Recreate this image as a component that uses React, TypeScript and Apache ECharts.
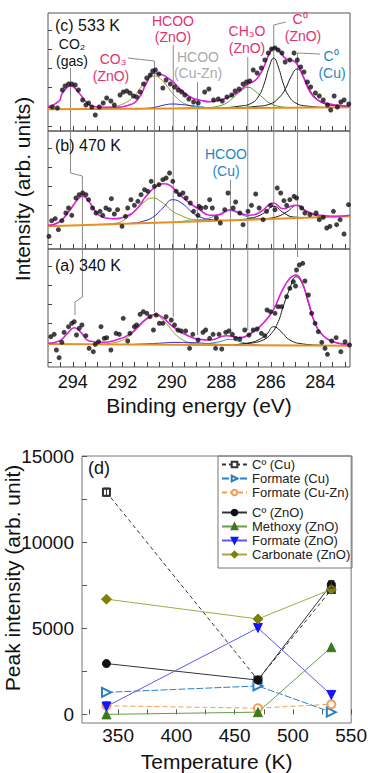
import React, { useEffect, useRef } from 'react';
import * as echarts from 'echarts';

const FONT = '"Liberation Sans", Arial, Helvetica, sans-serif';

// ---------- XPS spectra (energy eV, intensity arb.) ----------
const energyTicks = [283, 283.5, 284, 284.5, 285, 285.5, 286, 286.5, 287, 287.5, 288, 288.5, 289, 289.5, 290, 290.5, 291, 291.5, 292, 292.5, 293, 293.5, 294, 294.5];
const energyLabels = [284, 286, 288, 290, 292, 294];
const intensityTicks = [5, 24, 44, 63, 82, 101];

// panel (c) 533 K
const ptsC: number[][] = [
  [295.02, 25], [294.82, 24], [294.62, 23], [294.42, 41], [294.31, 45], [294.17, 47], [294.04, 47], [293.9, 46], [293.77, 41], [293.6, 31], [293.47, 26], [293.36, 28], [293.23, 24], [293.09, 16], [292.93, 24], [292.77, 28], [292.63, 33], [292.46, 30], [292.32, 26], [292.09, 36], [291.96, 39], [291.82, 40], [291.69, 38], [291.55, 35], [291.42, 34], [291.28, 39], [291.14, 47], [291.01, 53], [290.87, 56], [290.77, 60], [290.66, 61], [290.52, 57], [290.36, 43], [290.23, 51], [290.06, 47], [289.89, 44], [289.74, 41], [289.6, 39], [289.47, 36], [289.31, 32], [289.12, 29], [288.93, 28],
  [288.67, 39], [288.5, 42], [288.31, 31], [288.12, 32], [287.96, 30], [287.77, 34], [287.58, 36], [287.44, 40], [287.28, 42], [287.12, 47], [286.98, 49], [286.85, 50], [286.71, 61], [286.55, 58], [286.38, 63], [286.24, 71], [286.1, 78], [285.97, 82], [285.83, 83], [285.7, 81], [285.55, 78], [285.42, 69], [285.23, 71], [285.06, 78], [284.93, 71], [284.79, 64], [284.66, 59], [284.52, 49], [284.39, 44], [284.2, 38], [284.04, 35], [283.88, 31], [283.71, 26], [283.58, 21], [283.44, 35], [283.31, 24], [283.17, 29], [283.04, 31], [282.85, 27],
];
const envC: number[][] = [
  [295.0, 24.3], [294.55, 30], [294.42, 37.7], [294.08, 45], [293.74, 37.7], [293.4, 27.7], [293.06, 24.3], [292.39, 23.7], [291.71, 26], [291.31, 33.7], [291.04, 47], [290.7, 57.7], [290.36, 56], [289.96, 49.3], [289.55, 39.3], [289.15, 32.7], [288.88, 31],
  [288.47, 29.3], [287.93, 31.7], [287.39, 37.7], [286.98, 46], [286.58, 51.7], [286.31, 62.7], [286.04, 78.3], [285.86, 83.7], [285.63, 79.3], [285.36, 71.7], [285.09, 70.3], [284.89, 65], [284.69, 54.3], [284.42, 39.3], [284.15, 31.7], [283.74, 27.7], [283.34, 26], [282.8, 25],
];
const baseC: number[][] = [[295, 21.7], [282.8, 23.7]];
const c0ZnO_C: number[][] = [[288.1, 22.8], [287.28, 24.8], [286.78, 27.8], [286.48, 35.3], [286.26, 47.8], [286.08, 62.8], [285.88, 72.8], [285.68, 62.8], [285.5, 47.8], [285.28, 35.3], [284.98, 27.8], [284.48, 24.8], [283.7, 23.4]];
const c0Cu_C: number[][] = [[287.43, 23.0], [286.63, 24.5], [286.03, 27.0], [285.68, 33.0], [285.4, 42.6], [285.18, 54.3], [284.93, 62.0], [284.68, 54.3], [284.46, 42.6], [284.18, 33.0], [283.83, 27.3], [283.23, 25.0], [282.8, 24.3]];
const ch3o_C: number[][] = [[288.72, 22.8], [288.22, 24.3], [287.82, 27.5], [287.52, 33.3], [287.22, 39.5], [286.92, 43.7], [286.62, 39.5], [286.32, 33.3], [286.02, 27.5], [285.62, 24.4], [285.12, 23.1]];
const co3_C: number[][] = [[293.2, 22.1], [292.52, 23.7], [291.98, 27], [291.58, 33.7], [291.17, 46], [290.95, 52], [290.7, 55], [290.45, 52], [290.23, 46], [289.82, 33.7], [289.42, 26.7], [288.94, 23.7], [288.3, 22.6]];
const hcooZnO_C: number[][] = [[291.5, 22.2], [291.04, 22.6], [290.63, 24], [290.3, 26], [289.96, 27], [289.6, 26.4], [289.2, 25.3], [288.74, 23.8], [288.33, 22.9], [287.8, 22.6]];
const hcooCuZn_C: number[][] = [[289.8, 22.5], [289.3, 23.4], [288.97, 24.2], [288.6, 23.4], [288.1, 22.7]];

// panel (b) 470 K
const ptsB: number[][] = [
  [295.02, 29.3], [294.96, 12.7], [294.85, 28.3], [294.71, 30.3], [294.58, 19.3], [294.44, 28.3], [294.28, 36], [294.17, 41], [294.04, 33.7], [293.87, 51], [293.74, 54.3], [293.6, 56], [293.47, 54.3], [293.36, 49.3], [293.2, 41], [293.06, 36], [292.9, 37.7], [292.79, 33.7], [292.66, 41], [292.52, 39.3], [292.44, 50.3], [292.32, 35], [292.19, 39.3], [292.01, 22.7], [291.87, 32.7], [291.78, 41], [291.65, 49.3], [291.51, 43.7], [291.37, 47.7], [291.24, 54.3], [291.1, 59.3], [290.97, 57.7], [290.83, 67.7], [290.7, 62.7], [290.52, 64.3], [290.36, 69.3], [290.23, 71], [290.09, 76], [289.96, 67.7], [289.82, 57.7], [289.69, 54.3], [289.55, 56], [289.42, 51], [289.25, 46], [289.12, 37.7], [288.94, 33.7],
  [288.9, 42.7], [288.81, 41], [288.63, 41.7], [288.47, 49.3], [288.36, 41], [288.2, 31], [288.04, 26], [287.86, 39.3], [287.73, 56], [287.52, 41], [287.42, 47], [287.25, 36], [287.12, 24.3], [286.92, 37.7], [286.78, 43.7], [286.61, 55], [286.47, 41], [286.31, 29.3], [286.17, 37.7], [286.01, 43.7], [285.83, 39.3], [285.74, 61], [285.6, 56], [285.47, 48.3], [285.36, 43.7], [285.23, 49.3], [285.06, 52.7], [284.96, 51], [284.75, 41], [284.62, 36], [284.42, 34.3], [284.17, 36], [284.04, 29.3], [283.88, 31.7], [283.74, 21], [283.61, 22.7], [283.47, 37.7], [283.34, 24.3], [283.2, 29.3], [283.04, 15], [282.86, 44.3],
];
const envB: number[][] = [
  [295.0, 23.7], [294.55, 27], [294.15, 37.7], [293.81, 49.3], [293.6, 52.7], [293.4, 49.3], [293.13, 39.3], [292.79, 31.7], [292.39, 30.3], [291.85, 32.7], [291.44, 39.3], [291.04, 52.7], [290.63, 62.7], [290.29, 65.3], [290.02, 62.7], [289.69, 54.3], [289.28, 46], [288.87, 39.3],
  [288.47, 33.7], [288.06, 34.3], [287.66, 39.3], [287.25, 36], [286.85, 33.7], [286.38, 37.7], [285.9, 46], [285.5, 40.3], [285.02, 43.7], [284.55, 37.7], [284.01, 33.7], [283.34, 32.7], [282.8, 33.7],
];
const baseB: number[][] = [[295, 22.7], [282.8, 32.7]];
const co3_B: number[][] = [[293.0, 24.5], [292.25, 25.8], [291.85, 30.3], [291.51, 37.7], [291.17, 46], [290.77, 51], [290.36, 46], [289.96, 37.7], [289.55, 32.7], [289.15, 29.3], [288.6, 27.8]];
const hcooZnO_B: number[][] = [[292.0, 25.4], [291.58, 25.8], [291.17, 27.7], [290.77, 31.7], [290.36, 41], [289.96, 49.3], [289.55, 45], [289.15, 36], [288.8, 31.5], [288.4, 29.3], [287.9, 28.6]];
const hcooCu_B: number[][] = [[289.0, 27.8], [288.6, 30.0], [288.2, 33.7], [287.66, 38.3], [287.12, 33.7], [286.71, 31], [286.2, 30.0]];
const hcooCuZn_B: number[][] = [[289.6, 27.3], [289.0, 29.5], [288.5, 28.3]];
const c0ZnO_B: number[][] = [[287.3, 29.2], [286.98, 30.0], [286.58, 32.3], [286.24, 36.5], [285.88, 42.7], [285.5, 36.5], [285.09, 32], [284.55, 31.5], [284.0, 31.8]];
const c0Cu_B: number[][] = [[286.5, 29.8], [286.1, 30.6], [285.7, 32.7], [285.36, 37], [284.93, 43.7], [284.55, 37.7], [284.21, 33.7], [283.74, 32.3], [283.2, 32.5]];

// panel (a) 340 K
const ptsA: number[][] = [
  [294.89, 30.3], [294.75, 32.7], [294.66, 17], [294.55, 9.3], [294.44, 24.7], [294.35, 34.7], [294.17, 40.3], [294.04, 43.7], [293.94, 45.3], [293.85, 32], [293.74, 38.7], [293.63, 42], [293.47, 31.3], [293.34, 18.7], [293.17, 15.3], [293.09, 22.7], [292.96, 25.3], [292.86, 40.3], [292.73, 28.7], [292.63, 29.3], [292.46, 17], [292.25, 33.7], [292.12, 32.7], [291.96, 48.7], [291.78, 26], [291.69, 33.7], [291.51, 40.3], [291.42, 42], [291.28, 52.7], [291.15, 55.3], [291.01, 53.7], [290.88, 50.3], [290.74, 37], [290.63, 52], [290.5, 43.7], [290.36, 43.7], [290.23, 50.3], [290.02, 47], [289.89, 42], [289.75, 37], [289.62, 36], [289.44, 36], [289.28, 18.7], [289.15, 32.7], [288.94, 27],
  [288.74, 34.7], [288.63, 37], [288.47, 28.7], [288.33, 32.7], [288.23, 18.7], [288.09, 32.7], [287.98, 18], [287.82, 34.7], [287.69, 36], [287.55, 32.7], [287.42, 28.7], [287.25, 28], [287.05, 37], [286.88, 32], [286.71, 37], [286.55, 38], [286.38, 33.7], [286.24, 31.3], [286.15, 57], [286.01, 55.3], [285.83, 53.7], [285.7, 60.3], [285.56, 60.3], [285.36, 70.3], [285.23, 78.7], [285.09, 85.3], [285.0, 81], [284.96, 97], [284.85, 102], [284.71, 103.7], [284.62, 86], [284.48, 72], [284.35, 53.7], [284.21, 43.7], [284.08, 35.3], [283.94, 24.7], [283.81, 18.7], [283.71, 12.7], [283.54, 26], [283.36, 29.3], [283.17, 15.3], [283.0, 25.3], [282.82, 22],
];
const envA: number[][] = [
  [295.0, 23.7], [294.55, 26], [294.21, 33.7], [293.94, 39.3], [293.67, 34.7], [293.34, 26], [292.79, 24.7], [292.25, 27], [291.71, 32.7], [291.24, 43.7], [290.9, 50.3], [290.66, 52.7], [290.36, 49.3], [289.96, 40.3], [289.55, 33.7], [289.15, 29.3], [288.87, 27.7],
  [288.47, 27], [287.79, 31.3], [287.25, 29.3], [286.71, 35.3], [286.31, 43.7], [285.9, 57], [285.56, 75.3], [285.23, 88.7], [284.98, 92], [284.75, 85.3], [284.48, 65.3], [284.21, 43.7], [283.88, 31.3], [283.47, 25.3], [283.06, 23], [282.8, 22.7],
];
const baseA: number[][] = [[295, 23], [282.8, 21.2]];
const co3_A: number[][] = [[293.0, 22.6], [292.25, 24.7], [291.85, 28.7], [291.44, 37], [291.04, 47], [290.66, 51.3], [290.23, 43.7], [289.89, 33.7], [289.55, 27], [289.15, 23.7], [288.5, 22.3]];
const hcooZnO_A: number[][] = [[291.5, 22.6], [290.5, 23.8], [289.9, 24.6], [289.0, 24.2], [288.3, 22.9], [287.6, 22.2]];
const hcooCu_A: number[][] = [[288.9, 22.1], [288.47, 23.7], [288.06, 25.3], [287.66, 27.7], [287.25, 25.3], [286.85, 22.9], [286.4, 22.0]];
const hcooCuZn_A: number[][] = [[289.6, 22.3], [289.0, 23.4], [288.4, 22.4]];
const c0ZnO_A: number[][] = [[287.5, 22.2], [286.85, 24.3], [286.51, 27], [286.17, 32.7], [285.88, 40.3], [285.56, 34.7], [285.23, 27], [284.69, 23], [284.0, 21.8]];
const c0Cu_A: number[][] = [[287.5, 22.3], [286.85, 23.7], [286.31, 27], [285.97, 33.7], [285.7, 45.3], [285.5, 60.3], [285.23, 78.7], [284.98, 90.3], [284.71, 82], [284.48, 63.7], [284.21, 43.7], [283.88, 31.3], [283.47, 25.3], [282.93, 22.7]];

// annotation guide lines (energy, height across the three stacked panels)
const guideCO2: number[][] = [[294.09, 299], [294.09, 194], [293.61, 191], [293.61, 70], [293.91, 65], [293.91, 52]];
const guideCO3: number[][] = [[291.77, 309], [290.7, 306], [290.7, 55]];
const guideHcooZnO: number[][] = [[289.94, 322], [289.94, 50]];
const guideHcooCuZn: number[][] = [[288.96, 285], [288.96, 32]];
const guideHcooCu: number[][] = [[287.63, 187], [287.63, 36]];
const guideCH3O: number[][] = [[286.93, 310], [286.93, 37]];
const guideC0ZnO: number[][] = [[285.39, 345], [285.88, 342], [285.88, 60]];
const guideC0Cu: number[][] = [[284.01, 313], [284.92, 314], [284.92, 110]];

// ---------- Peak intensity vs temperature ----------
const temps = [340, 470, 533];
const tempTicks = [325, 350, 375, 400, 425, 450, 475, 500, 525, 550];
const tempLabels = [350, 400, 450, 500, 550];
const peakTicks = [0, 2500, 5000, 7500, 10000, 12500, 15000];
const peakLabels = [0, 5000, 10000, 15000];
const c0Cu = [12900, 2000, 7250];
const formateCu = [1280, 1650, 130];
const formateCuZn = [500, 360, 590];
const c0ZnO = [2950, 1990, 7550];
const methoxyZnO = [0, 130, 3900];
const formateZnO = [460, 5020, 1130];
const carbonateZnO = [6690, 5540, 7260];
const c0CuErr = [240, 0, 0];
const c0ZnOErr = [0, 0, 220];

const legendNames = ['C\u00ba (Cu)', 'Formate (Cu)', 'Formate (Cu-Zn)', 'C\u00ba (ZnO)', 'Methoxy (ZnO)', 'Formate (ZnO)', 'Carbonate (ZnO)'];

const CRIMSON = '#e5306e';
const LBLUE = '#1e86c6';
const GRAY = '#a9a9a9';

function buildOption() {
  const panelTops = [13, 131, 249];
  const grids: any[] = panelTops.map((t) => ({ left: 48, top: t, width: 302, height: 118, show: true, borderColor: '#555', borderWidth: 1, backgroundColor: 'transparent' }));
  grids.push({ left: 48, top: 13, width: 302, height: 354, show: false });
  grids.push({ left: 82, top: 456, width: 270, height: 271, show: true, borderColor: '#777', borderWidth: 1, backgroundColor: 'transparent' });

  const xAxes: any[] = [0, 1, 2].map((i) => ({
    type: 'value', gridIndex: i, min: 282.8, max: 295, inverse: true,
    axisLine: { show: false }, splitLine: { show: false },
    axisTick: { show: true, inside: true, length: 5, customValues: energyTicks, lineStyle: { color: '#444', width: 1 } },
    axisLabel: { show: i === 2, customValues: energyLabels, fontSize: 18, color: '#111', margin: 6, fontFamily: FONT, formatter: (v: number) => String(v) },
    name: i === 2 ? 'Binding energy (eV)' : '', nameLocation: 'middle', nameGap: 28,
    nameTextStyle: { fontSize: 21, color: '#111', fontFamily: FONT },
  }));
  xAxes.push({ type: 'value', gridIndex: 3, min: 282.8, max: 295, inverse: true, show: false });
  xAxes.push({
    type: 'value', gridIndex: 4, min: 319, max: 550,
    axisLine: { show: false }, splitLine: { show: false },
    axisTick: { show: true, inside: true, length: 5, customValues: tempTicks, lineStyle: { color: '#555' } },
    axisLabel: { customValues: tempLabels, fontSize: 19, color: '#111', margin: 3, fontFamily: FONT, formatter: (v: number) => String(v) },
    name: 'Temperature (K)', nameLocation: 'middle', nameGap: 28,
    nameTextStyle: { fontSize: 21, color: '#111', fontFamily: FONT },
  });

  const yAxes: any[] = [0, 1, 2].map((i) => ({
    type: 'value', gridIndex: i, min: 0, max: 118,
    axisLine: { show: false }, splitLine: { show: false },
    axisTick: { show: true, inside: true, length: 4, customValues: intensityTicks, lineStyle: { color: '#444' } },
    axisLabel: { show: false },
  }));
  yAxes.push({ type: 'value', gridIndex: 3, min: 0, max: 354, show: false });
  yAxes.push({
    type: 'value', gridIndex: 4, min: -500, max: 15000,
    axisLine: { show: false }, splitLine: { show: false },
    axisTick: { show: true, inside: true, length: 5, customValues: peakTicks, lineStyle: { color: '#555' } },
    axisLabel: { customValues: peakLabels, fontSize: 19, color: '#111', margin: 8, fontFamily: FONT, formatter: (v: number) => String(v) },
  });

  const series: any[] = [];
  const guides = [guideCO2, guideCO3, guideHcooZnO, guideHcooCuZn, guideHcooCu, guideCH3O, guideC0ZnO, guideC0Cu];
  guides.forEach((g) => series.push({
    type: 'line', xAxisIndex: 3, yAxisIndex: 3, data: g, showSymbol: false, silent: true, z: 1,
    lineStyle: { color: '#7d7d7d', width: 0.9 },
  }));

  const comp = (idx: number, data: number[][], color: string, width = 1) => series.push({
    type: 'line', xAxisIndex: idx, yAxisIndex: idx, data, showSymbol: false, smooth: 0.5, silent: true, z: 2,
    lineStyle: { color, width },
  });
  const panels = [
    { i: 0, pts: ptsC, env: envC, base: baseC, comps: [[co3_C, '#a19a1e'], [hcooZnO_C, '#2424dc'], [hcooCuZn_C, '#3cc4d4'], [ch3o_C, '#5b9a2c'], [c0ZnO_C, '#1a1a1a'], [c0Cu_C, '#1a1a1a']] },
    { i: 1, pts: ptsB, env: envB, base: baseB, comps: [[co3_B, '#a19a1e'], [hcooZnO_B, '#2424dc'], [hcooCuZn_B, '#3cc4d4'], [hcooCu_B, '#2a8fcf'], [c0ZnO_B, '#1a1a1a'], [c0Cu_B, '#1a1a1a']] },
    { i: 2, pts: ptsA, env: envA, base: baseA, comps: [[co3_A, '#a19a1e'], [hcooZnO_A, '#2a2ac8'], [hcooCuZn_A, '#3cc4d4'], [hcooCu_A, '#2a8fcf'], [c0ZnO_A, '#1a1a1a'], [c0Cu_A, '#1a1a1a']] },
  ];
  panels.forEach((p) => {
    p.comps.forEach(([d, c]) => comp(p.i, d as number[][], c as string));
    series.push({ type: 'line', xAxisIndex: p.i, yAxisIndex: p.i, data: p.base, showSymbol: false, silent: true, z: 2, lineStyle: { color: '#e8901e', width: 2 } });
    series.push({ type: 'line', xAxisIndex: p.i, yAxisIndex: p.i, data: p.env, showSymbol: false, smooth: 0.5, silent: true, z: 3, lineStyle: { color: '#e020d8', width: 1.6 } });
    series.push({ type: 'scatter', xAxisIndex: p.i, yAxisIndex: p.i, data: p.pts, symbolSize: 5, silent: true, z: 4, itemStyle: { color: '#111' } });
  });

  const zip = (vals: number[]) => temps.map((t, k) => [t, vals[k]]);
  const tSeries = (name: string, vals: number[], color: string, symbol: string, opts: any = {}) => series.push({
    name, type: 'line', xAxisIndex: 4, yAxisIndex: 4, data: zip(vals), symbol, symbolSize: opts.size ?? 8,
    symbolRotate: opts.rotate ?? 0, z: 5,
    lineStyle: { color: opts.lineColor ?? color, width: 1, type: opts.dash ?? 'solid' },
    itemStyle: { color, borderColor: color, borderWidth: 1 },
  });
  tSeries(legendNames[0], c0Cu, '#333', 'emptyRect', { size: 7, dash: [4, 3] });
  tSeries(legendNames[1], formateCu, '#2a80c4', 'emptyTriangle', { rotate: -90, size: 9, dash: [7, 2], lineColor: '#2a80c4' });
  tSeries(legendNames[2], formateCuZn, '#f0a050', 'emptyCircle', { size: 8, dash: [5, 3] });
  tSeries(legendNames[3], c0ZnO, '#111', 'circle', { size: 8, lineColor: '#333' });
  tSeries(legendNames[4], methoxyZnO, '#3b7a1c', 'triangle', { size: 9, lineColor: '#6a9a4a' });
  tSeries(legendNames[5], formateZnO, '#1414ff', 'triangle', { size: 9, rotate: 180, lineColor: '#5a5af0' });
  tSeries(legendNames[6], carbonateZnO, '#7f7f0c', 'diamond', { size: 10, lineColor: '#a8a848' });

  const errData: number[][] = [];
  temps.forEach((t, k) => {
    if (c0CuErr[k] > 0) errData.push([t, c0Cu[k] - c0CuErr[k], c0Cu[k] + c0CuErr[k]]);
    if (c0ZnOErr[k] > 0) errData.push([t, c0ZnO[k] - c0ZnOErr[k], c0ZnO[k] + c0ZnOErr[k]]);
  });
  series.push({
    type: 'custom', xAxisIndex: 4, yAxisIndex: 4, data: errData, z: 6, silent: true,
    renderItem: (_p: any, api: any) => {
      const x = api.value(0);
      const a = api.coord([x, api.value(1)]);
      const b = api.coord([x, api.value(2)]);
      const st = { stroke: '#333', lineWidth: 1 };
      return {
        type: 'group', children: [
          { type: 'line', shape: { x1: a[0], y1: a[1], x2: b[0], y2: b[1] }, style: st },
          { type: 'line', shape: { x1: a[0] - 3, y1: a[1], x2: a[0] + 3, y2: a[1] }, style: st },
          { type: 'line', shape: { x1: b[0] - 3, y1: b[1], x2: b[0] + 3, y2: b[1] }, style: st },
        ],
      };
    },
  });

  const legendBase = {
    orient: 'vertical', left: 221, itemWidth: 25, itemHeight: 7, itemGap: 1, padding: 0,
    textStyle: { fontSize: 13, color: '#222', fontFamily: FONT }, selectedMode: false,
  };

  const txt = (text: string, x: number, y: number, fill: string, size = 14, align = 'center') => ({
    type: 'text', x, y, z: 20, silent: true,
    style: { text, fill, fontSize: size, fontFamily: FONT, align, verticalAlign: 'middle' },
  });

  const graphic: any[] = [
    txt('(c) 533 K', 55, 25, '#111', 16, 'left'),
    txt('(b) 470 K', 55, 145, '#111', 16, 'left'),
    txt('(a) 340 K', 55, 265, '#111', 16, 'left'),
    txt('CO\u2082', 72, 44, '#111'), txt('(gas)', 72, 61, '#111'),
    txt('CO\u2083', 113, 59, CRIMSON), txt('(ZnO)', 111, 76, CRIMSON),
    txt('HCOO', 173, 21, CRIMSON), txt('(ZnO)', 173, 37, CRIMSON),
    txt('HCOO', 198, 57, GRAY), txt('(Cu-Zn)', 198, 73, GRAY),
    txt('CH\u2083O', 247, 31, CRIMSON), txt('(ZnO)', 247, 48, CRIMSON),
    txt('C\u2070', 300, 19, CRIMSON), txt('(ZnO)', 303, 36, CRIMSON),
    txt('C\u2070', 331, 56, LBLUE), txt('(Cu)', 332, 73, LBLUE),
    txt('HCOO', 226, 154, LBLUE), txt('(Cu)', 226, 171, LBLUE),
    { type: 'text', x: 22, y: 189, rotation: Math.PI / 2, z: 20, silent: true, style: { text: 'Intensity (arb. units)', fill: '#111', fontSize: 21, fontFamily: FONT, align: 'center', verticalAlign: 'middle' } },
    { type: 'text', x: 12, y: 578, rotation: Math.PI / 2, z: 20, silent: true, style: { text: 'Peak intensity (arb. unit)', fill: '#111', fontSize: 21, fontFamily: FONT, align: 'center', verticalAlign: 'middle' } },
    txt('(d)', 88, 468, '#111', 18, 'left'),
    { type: 'rect', z: 19, silent: true, shape: { x: 218, y: 456, width: 134, height: 112 }, style: { fill: 'rgba(0,0,0,0)', stroke: '#777', lineWidth: 1 } },
  ];

  return {
    animation: false,
    backgroundColor: '#fff',
    grid: grids,
    xAxis: xAxes,
    yAxis: yAxes,
    legend: [
      { ...legendBase, top: 458, data: legendNames.slice(0, 3) },
      { ...legendBase, top: 506, data: legendNames.slice(3) },
    ],
    series,
    graphic,
  };
}

export default function App() {
  const ref = useRef<HTMLDivElement>(null);
  useEffect(() => {
    if (!ref.current) return;
    const chart = echarts.init(ref.current, null, { renderer: 'svg' });
    chart.setOption(buildOption() as any);
    return () => chart.dispose();
  }, []);
  return <div ref={ref} style={{ position: 'absolute', left: 0, top: 0, width: 370, height: 773 }} />;
}
